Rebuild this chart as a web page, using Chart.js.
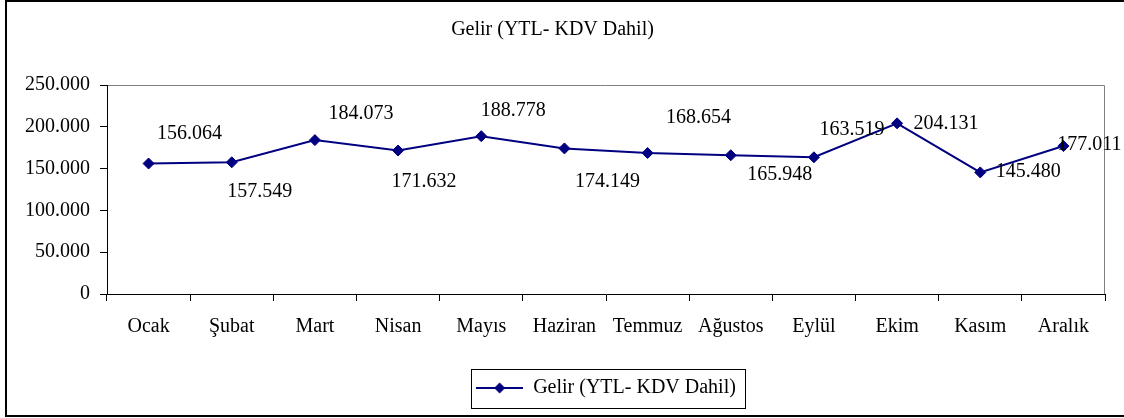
<!DOCTYPE html>
<html>
<head>
<meta charset="utf-8">
<script src="https://cdn.jsdelivr.net/npm/chart.js@4.4.1/dist/chart.umd.min.js"></script>
<style>
  html, body { margin:0; padding:0; background:#fff; }
  #wrap { position:relative; width:1124px; height:418px; }
</style>
</head>
<body>
<div id="wrap"><canvas id="c" width="1124" height="418"></canvas></div>
<script>
// chart data
const months = ["Ocak","Şubat","Mart","Nisan","Mayıs","Haziran","Temmuz","Ağustos","Eylül","Ekim","Kasım","Aralık"];
const gelir = [156064, 157549, 184073, 171632, 188778, 174149, 168654, 165948, 163519, 204131, 145480, 177011];
const seriesName = "Gelir (YTL- KDV Dahil)";
const yMin = 0, yMax = 250000, yStep = 50000;

const NAVY = "#000080";
const FONT = "'Liberation Serif', 'Times New Roman', serif";

// where each value label sits relative to its point (Excel left them scattered)
const labelOffsets = [[41,-30],[28,29],[46,-26],[26,31],[32,-25],[43,33],[51,-35],[49,19],[38,-28],[49,0],[48,-1],[26,-1]];

const fmt = v => String(v).replace(/\B(?=(\d{3})+(?!\d))/g, ".");

// legend swatch: line with a diamond through it
const swatch = document.createElement("canvas");
swatch.width = 47; swatch.height = 12;
(() => {
  const g = swatch.getContext("2d");
  g.strokeStyle = NAVY; g.lineWidth = 2;
  g.beginPath(); g.moveTo(0, 6); g.lineTo(47, 6); g.stroke();
  g.fillStyle = NAVY;
  g.beginPath(); g.moveTo(23.5, 0.5); g.lineTo(29, 6); g.lineTo(23.5, 11.5); g.lineTo(18, 6); g.closePath(); g.fill();
})();

const frame = {
  id: "frame",
  beforeDraw(chart) {
    const { ctx, chartArea: a } = chart;
    ctx.save();
    ctx.fillStyle = "#fff";
    ctx.fillRect(0, 0, chart.width, chart.height);
    ctx.strokeStyle = "#000"; ctx.lineWidth = 2;
    ctx.strokeRect(6, 1, 1140, 415);
    // plot area border (gray top/right)
    ctx.strokeStyle = "#808080"; ctx.lineWidth = 1;
    ctx.beginPath();
    ctx.moveTo(a.left, a.top + 0.5); ctx.lineTo(a.right - 0.5, a.top + 0.5); ctx.lineTo(a.right - 0.5, a.bottom);
    ctx.stroke();
    ctx.restore();
  },
  afterDraw(chart) {
    const hb = chart.legend && chart.legend.legendHitBoxes && chart.legend.legendHitBoxes[0];
    if (!hb) return;
    const { ctx } = chart;
    const cy = hb.top + hb.height / 2;
    ctx.save();
    ctx.strokeStyle = "#000"; ctx.lineWidth = 1;
    ctx.strokeRect(Math.round(hb.left - 5) + 0.5, Math.round(cy - 19.5) + 0.5, Math.round(hb.width + 14), 39);
    ctx.restore();
  }
};

const valueLabels = {
  id: "valueLabels",
  afterDatasetsDraw(chart) {
    const { ctx } = chart;
    const meta = chart.getDatasetMeta(0);
    ctx.save();
    ctx.font = "20px " + FONT;
    ctx.fillStyle = "#000";
    ctx.textAlign = "center";
    ctx.textBaseline = "middle";
    meta.data.forEach((pt, i) => {
      const off = labelOffsets[i] || [0, -20];
      ctx.fillText(fmt(gelir[i]), pt.x + off[0], pt.y + off[1]);
    });
    ctx.restore();
  }
};

Chart.defaults.font.family = FONT;
Chart.defaults.font.size = 20;
Chart.defaults.color = "#000";

new Chart(document.getElementById("c"), {
  type: "line",
  data: {
    labels: months,
    datasets: [{
      label: seriesName,
      data: gelir,
      borderColor: NAVY,
      backgroundColor: NAVY,
      borderWidth: 2,
      pointStyle: "rectRot",
      pointRadius: 5.5,
      pointBorderWidth: 1,
      pointBackgroundColor: NAVY,
      pointBorderColor: NAVY,
      tension: 0
    }]
  },
  options: {
    responsive: false,
    animation: false,
    layout: { padding: { left: 0, right: 19, top: 0, bottom: 10 } },
    plugins: {
      title: {
        display: true,
        text: seriesName,
        font: { size: 20, weight: "normal", lineHeight: 1.2 },
        color: "#000",
        padding: { top: 18, bottom: 43 }
      },
      legend: {
        position: "bottom",
        fullSize: false,
        labels: {
          usePointStyle: true,
          pointStyleWidth: 47,
          padding: 10,
          font: { size: 20 },
          color: "#000",
          generateLabels: (chart) => [{
            text: seriesName,
            pointStyle: swatch,
            fillStyle: NAVY,
            strokeStyle: NAVY,
            lineWidth: 0,
            datasetIndex: 0,
            hidden: false
          }]
        }
      },
      tooltip: { enabled: false }
    },
    scales: {
      x: {
        offset: true,
        grid: { display: true, offset: true, drawOnChartArea: false, drawTicks: true, tickLength: 7, color: "#000" },
        border: { display: true, color: "#000", width: 1 },
        ticks: { padding: 14, maxRotation: 0, autoSkip: false, font: { size: 20 } },
        afterFit(s) { s.height = 74; }
      },
      y: {
        min: yMin, max: yMax,
        grid: { display: true, drawOnChartArea: false, drawTicks: true, tickLength: 7, color: "#000" },
        border: { display: true, color: "#000", width: 1 },
        ticks: { stepSize: yStep, padding: 10, font: { size: 20 }, callback: v => fmt(v) },
        afterFit(s) { s.width = 107; }
      }
    }
  },
  plugins: [frame, valueLabels]
});
</script>
</body>
</html>
